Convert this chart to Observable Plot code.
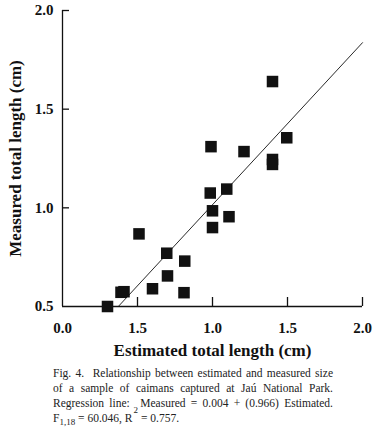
<!DOCTYPE html>
<html>
<head>
<meta charset="utf-8">
<script src="https://cdn.jsdelivr.net/npm/d3@7"></script>
<script src="https://cdn.jsdelivr.net/npm/@observablehq/plot@0.6"></script>
<style>
  html, body { margin: 0; padding: 0; background: #fff; }
  #chart svg { display: block; }
  #caption {
    font-family: "Liberation Serif", "DejaVu Serif", serif;
    font-size: 11.5px;
    line-height: 15px;
    color: #222;
    width: 280px;
    margin-left: 53px;
    margin-top: 4px;
  }
  #caption .j { text-align: justify; text-align-last: justify; white-space: nowrap; }
  #caption .l { text-align: left; white-space: nowrap; }
  .sup { position: relative; top: -9px; font-size: 9px; margin-left: 1px; margin-right: 3px; }
  .sub { position: relative; top: 3px; font-size: 9px; }
</style>
</head>
<body>
<div id="chart"></div>
<div id="caption">
  <div class="j">Fig. 4.&nbsp; Relationship between estimated and measured size</div>
  <div class="j">of a sample of caimans captured at Jaú National Park.</div>
  <div class="j">Regression line: &nbsp;Measured = 0.004 + (0.966) Estimated.</div>
  <div class="l">F<span class="sub">1,18</span> = 60.046, R<span class="sup">2</span>= 0.757.</div>
</div>
<script>
// Data
const estimated = [0.30, 0.39, 0.41, 0.60, 0.51, 0.695, 0.70, 0.815, 0.81, 0.99, 0.985, 1.00, 1.00, 1.095, 1.11, 1.21, 1.40, 1.495, 1.40, 1.40];
const measured  = [0.50, 0.572, 0.575, 0.59, 0.868, 0.77, 0.655, 0.73, 0.57, 1.31, 1.075, 0.985, 0.90, 1.095, 0.955, 1.285, 1.64, 1.355, 1.245, 1.22];

// Regression line as drawn in the figure
const lineEstimated = [0.372, 2.0];
const lineMeasured  = [0.5, 1.837];

// Tick values and labels (labels as printed)
const xTicks = [0, 0.5, 1, 1.5, 2];
const xTickLabels = ["0.0", "1.5", "1.0", "1.5", "2.0"];
const yTicks = [0.5, 1, 1.5, 2];
const yTickLabels = ["0.5", "1.0", "1.5", "2.0"];

const points = estimated.map((e, i) => ({estimated: e, measured: measured[i]}));
const regression = lineEstimated.map((e, i) => ({estimated: e, measured: lineMeasured[i]}));

const font = "'Liberation Serif', 'Times New Roman', serif";

const chart = Plot.plot({
  width: 384,
  height: 362,
  marginLeft: 62,
  marginRight: 22,
  marginTop: 10,
  marginBottom: 56,
  style: {fontFamily: font, fontSize: "15px", fontWeight: "bold", color: "#111", background: "#fff"},
  x: {domain: [0, 2]},
  y: {domain: [0.5, 2]},
  marks: [
    Plot.ruleX([0], {stroke: "#111", strokeWidth: 1.3}),
    Plot.ruleY([0.5], {stroke: "#111", strokeWidth: 1.3}),
    Plot.axisX({
      ticks: xTicks.slice(1),
      tickSize: -9,
      tickFormat: () => "",
      strokeWidth: 1.3,
      label: null
    }),
    Plot.axisX({
      ticks: xTicks,
      tickSize: 0,
      tickPadding: 16,
      tickFormat: (d) => xTickLabels[xTicks.indexOf(d)],
      fontSize: 15,
      fontWeight: "bold",
      label: "Estimated total length (cm)",
      labelAnchor: "center",
      labelArrow: "none",
      labelOffset: 49
    }),
    Plot.axisY({
      ticks: yTicks.slice(1),
      tickSize: -7,
      tickFormat: () => "",
      strokeWidth: 1.3,
      label: null
    }),
    Plot.axisY({
      ticks: yTicks,
      tickSize: 0,
      tickPadding: 9,
      tickFormat: (d) => yTickLabels[yTicks.indexOf(d)],
      fontSize: 15,
      fontWeight: "bold",
      label: "Measured total length (cm)",
      labelAnchor: "center",
      labelArrow: "none",
      labelOffset: 54
    }),
    Plot.line(regression, {x: "estimated", y: "measured", stroke: "#111", strokeWidth: 0.9}),
    Plot.dot(points, {x: "estimated", y: "measured", symbol: "square", r: 6.5, fill: "#111", stroke: "none"})
  ]
});

// enlarge axis label fonts
chart.querySelectorAll("[aria-label='x-axis label'] text, [aria-label='y-axis label'] text").forEach(t => {
  t.style.fontSize = "17px";
  t.style.fontWeight = "bold";
});
document.getElementById("chart").appendChild(chart);
</script>
</body>
</html>
